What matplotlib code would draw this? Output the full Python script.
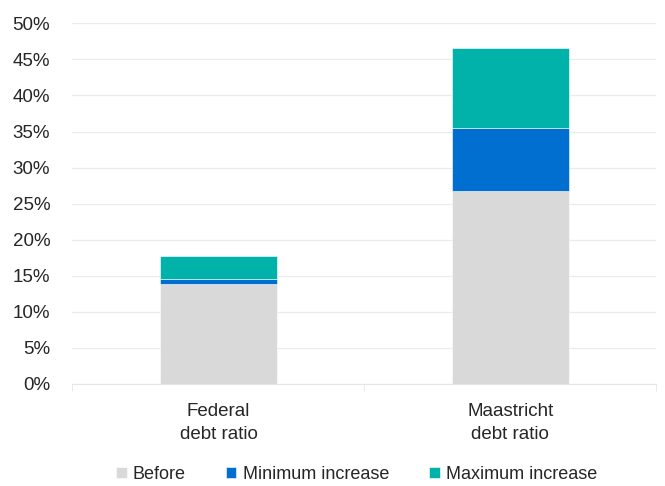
import numpy as np
import matplotlib
matplotlib.use("Agg")
import matplotlib.pyplot as plt
from matplotlib.ticker import FuncFormatter

categories = ["Federal\ndebt ratio", "Maastricht\ndebt ratio"]
before = [13.8, 26.7]
min_inc = [0.8, 8.85]
max_inc = [3.1, 11.05]
series = ["Before", "Minimum increase", "Maximum increase"]
colors = ["#D9D9D9", "#006FCF", "#00B2AA"]

plt.rcParams["font.family"] = ["Liberation Sans", "DejaVu Sans"]
txt = "#262626"

fig = plt.figure(figsize=(6.65, 4.86), dpi=100)
ax = fig.add_axes([0.109, 0.2099, 0.878, 0.742])

x = np.arange(len(categories))
bottom = np.zeros(len(categories))
for vals, name, c in zip([before, min_inc, max_inc], series, colors):
    ax.bar(x, vals, 0.4, bottom=bottom, color=c, label=name,
           edgecolor="white", linewidth=0.4, zorder=3)
    bottom += np.array(vals)

ax.set_xlim(-0.5, 1.5)
ax.set_ylim(0, 50)
ax.set_yticks(np.arange(0, 51, 5))
ax.yaxis.set_major_formatter(FuncFormatter(lambda v, p: f"{v:.0f}%"))
ax.grid(axis="y", color="#EBEBEB", linewidth=0.9, zorder=0)
for s in ["top", "right", "left"]:
    ax.spines[s].set_visible(False)
ax.spines["bottom"].set_color("#E6E6E6")
ax.spines["bottom"].set_zorder(1)

ax.set_xticks(x)
ax.set_xticklabels(categories, linespacing=1.45)
ax.set_xticks([-0.5, 0.5, 1.5], minor=True)
ax.tick_params(axis="x", which="major", length=0, pad=14, labelsize=13.5, colors=txt)
ax.tick_params(axis="x", which="minor", length=5, color="#E6E6E6")
ax.tick_params(axis="y", length=0, pad=16, labelsize=13.5, colors=txt)

fig.legend(loc="center", bbox_to_anchor=(0.536, 0.024), ncol=3, frameon=False,
           fontsize=13, handlelength=0.6, handleheight=0.6, handletextpad=0.35,
           columnspacing=2.2, labelcolor=txt)

fig.savefig("out.png", dpi=100)
